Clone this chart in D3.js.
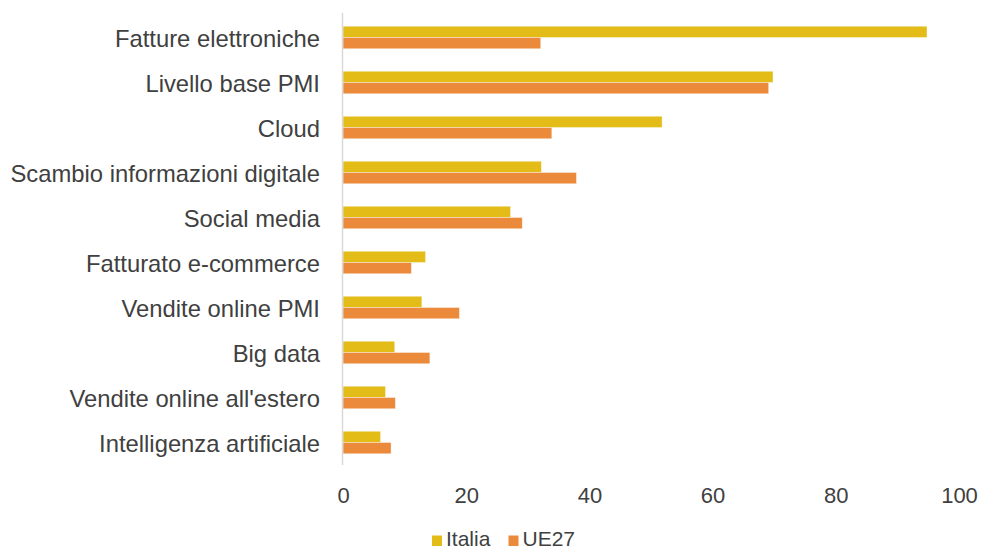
<!DOCTYPE html>
<html>
<head>
<meta charset="utf-8">
<script src="https://cdn.jsdelivr.net/npm/d3@7"></script>
<style>
  html, body { margin: 0; padding: 0; background: #fff; }
  svg { display: block; font-family: "Liberation Sans", Arial, sans-serif; }
</style>
</head>
<body>
<svg id="chart" width="981" height="551"></svg>
<script>
// Indicatori di digitalizzazione delle imprese: Italia vs UE27 (%)
const categories = [
  "Fatture elettroniche",
  "Livello base PMI",
  "Cloud",
  "Scambio informazioni digitale",
  "Social media",
  "Fatturato e-commerce",
  "Vendite online PMI",
  "Big data",
  "Vendite online all'estero",
  "Intelligenza artificiale"
];
const italia = [94.8, 69.8, 51.8, 32.2, 27.2, 13.4, 12.8, 8.4, 6.9, 6.1];
const ue27   = [32.1, 69.1, 33.9, 37.9, 29.1, 11.1, 18.9, 14.1, 8.5, 7.8];
const seriesNames = ["Italia", "UE27"];
const xTicks = [0, 20, 40, 60, 80, 100];

const colors = { Italia: "#E3BC17", UE27: "#EA8A3A" };
const textColor = "#404040";
const font = "'Liberation Sans', Arial, sans-serif";

const svg = d3.select("#chart");
const originX = 343;

const x = d3.scaleLinear().domain([0, 100]).range([0, 616]);
const y = d3.scaleBand().domain(categories).range([15, 465]).paddingInner(0.5).paddingOuter(0.25);
const ySub = d3.scaleBand().domain(seriesNames).range([0, y.bandwidth()]);

const g = svg.append("g").attr("transform", `translate(${originX},0)`);

const rows = categories.map((c, i) => ({ cat: c, Italia: italia[i], UE27: ue27[i] }));

// bars
const grp = g.selectAll("g.cat").data(rows).join("g")
  .attr("class", "cat")
  .attr("transform", d => `translate(0,${y(d.cat)})`);
grp.selectAll("rect")
  .data(d => seriesNames.map(s => ({ s, v: d[s] })))
  .join("rect")
  .attr("x", 0)
  .attr("y", d => ySub(d.s))
  .attr("width", d => x(d.v))
  .attr("height", ySub.bandwidth())
  .attr("fill", d => colors[d.s])
  .attr("stroke", "#fff")
  .attr("stroke-opacity", 0.5)
  .attr("stroke-width", 0.75);

// category axis (left)
const yAxis = g.append("g").call(d3.axisLeft(y).tickSize(0).tickPadding(23));
yAxis.select(".domain").attr("stroke", "#d9d9d9").attr("stroke-width", 1.5)
  .attr("d", "M-0.5,13V465");
yAxis.selectAll("text")
  .attr("fill", textColor)
  .attr("dy", "0.38em")
  .attr("font-family", font)
  .style("font-size", "23.8px");

// value axis (bottom)
const xAxis = g.append("g").attr("transform", "translate(0,465)")
  .call(d3.axisBottom(x).tickValues(xTicks).tickSize(0).tickPadding(22.5));
xAxis.select(".domain").remove();
xAxis.selectAll("text")
  .attr("fill", textColor)
  .attr("font-family", font)
  .style("font-size", "22px");

// legend
const legend = svg.append("g").attr("transform", "translate(432,535.5)");
const items = [{ s: "Italia", dx: 0 }, { s: "UE27", dx: 76.5 }];
const li = legend.selectAll("g").data(items).join("g")
  .attr("transform", d => `translate(${d.dx},0)`);
li.append("rect").attr("width", 10).attr("height", 10.5)
  .attr("fill", d => colors[d.s]);
li.append("text").attr("x", 14).attr("y", 10.5)
  .attr("fill", textColor)
  .attr("font-family", font)
  .style("font-size", "21px")
  .text(d => d.s);
</script>
</body>
</html>
